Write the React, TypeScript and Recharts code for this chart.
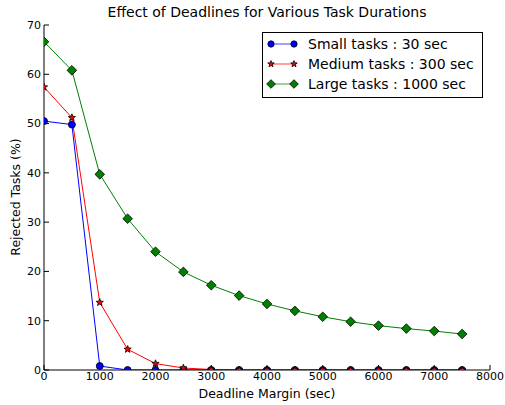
import React from 'react';
import { LineChart, Line, XAxis, YAxis } from 'recharts';

// deadline margins in seconds
const margins = [0, 500, 1000, 1500, 2000, 2500, 3000, 3500, 4000, 4500, 5000, 5500, 6000, 6500, 7000, 7500];

// rejected tasks (%) per task size
const small = [50.5, 49.8, 0.8, 0, 0, 0, 0, 0, 0, 0, 0, 0, 0, 0, 0, 0];
const medium = [57.4, 51.2, 13.7, 4.2, 1.3, 0.4, 0.1, 0, 0, 0, 0, 0, 0, 0, 0, 0];
const large = [66.6, 60.8, 39.7, 30.7, 24.0, 19.9, 17.2, 15.1, 13.4, 12.0, 10.8, 9.8, 9.0, 8.4, 7.9, 7.3];

const xTicks = [0, 1000, 2000, 3000, 4000, 5000, 6000, 7000, 8000];
const yTicks = [0, 10, 20, 30, 40, 50, 60, 70];

const FONT = '"DejaVu Sans", sans-serif';

const data = margins.map((m, i) => ({ margin: m, small: small[i], medium: medium[i], large: large[i] }));

type Shape = 'circle' | 'star' | 'diamond';

const starPath = (cx: number, cy: number, ro: number, ri: number) => {
  const pts: string[] = [];
  for (let k = 0; k < 10; k++) {
    const r = k % 2 === 0 ? ro : ri;
    const a = -Math.PI / 2 + (k * Math.PI) / 5;
    pts.push(`${cx + r * Math.cos(a)},${cy + r * Math.sin(a)}`);
  }
  return `M${pts.join('L')}Z`;
};

const Marker = ({ cx, cy, shape, fill, scale = 1 }: { cx: number; cy: number; shape: Shape; fill: string; scale?: number }) => {
  if (cx == null || cy == null) return null;
  if (shape === 'circle') return <circle cx={cx} cy={cy} r={3.5 * scale} fill={fill} stroke="#000" strokeWidth={0.8} />;
  if (shape === 'star') return <path d={starPath(cx, cy, 3.8 * scale, 1.6 * scale)} fill={fill} stroke="#000" strokeWidth={0.8} />;
  const h = 4.8 * scale;
  return (
    <path d={`M${cx},${cy - h}L${cx + h},${cy}L${cx},${cy + h}L${cx - h},${cy}Z`} fill={fill} stroke="#000" strokeWidth={0.8} />
  );
};

const series: { key: string; name: string; color: string; shape: Shape }[] = [
  { key: 'small', name: 'Small tasks : 30 sec', color: '#0000ff', shape: 'circle' },
  { key: 'medium', name: 'Medium tasks : 300 sec', color: '#ff0000', shape: 'star' },
  { key: 'large', name: 'Large tasks : 1000 sec', color: '#008000', shape: 'diamond' },
];

const tickStyle = { fontSize: 11, fontFamily: FONT, fill: '#000' };

export default function App() {
  return (
    <div style={{ position: 'absolute', left: 0, top: 0, width: 505, height: 405, background: '#fff', fontFamily: FONT }}>
      <LineChart width={505} height={405} data={data} margin={{ top: 25, right: 15, left: 0, bottom: 0 }}>
        <XAxis
          dataKey="margin"
          type="number"
          domain={[0, 8000]}
          ticks={xTicks}
          allowDataOverflow
          height={35}
          stroke="#000"
          tickSize={-5}
          tickMargin={7}
          tick={tickStyle}
        />
        <XAxis xAxisId="top" orientation="top" dataKey="margin" type="number" domain={[0, 8000]} ticks={xTicks} height={0} stroke="#000" tickSize={-5} tick={false} />
        <YAxis
          type="number"
          domain={[0, 70]}
          ticks={yTicks}
          allowDataOverflow
          width={44}
          stroke="#000"
          tickSize={-5}
          tickMargin={8}
          tick={tickStyle}
        />
        <YAxis yAxisId="right" orientation="right" type="number" domain={[0, 70]} ticks={yTicks} width={0} stroke="#000" tickSize={-5} tick={false} />
        {series.map((s) => (
          <Line
            key={s.key}
            dataKey={s.key}
            stroke={s.color}
            strokeWidth={1}
            isAnimationActive={false}
            dot={(p: any) => <Marker key={`${s.key}-${p.index}`} cx={p.cx} cy={p.cy} shape={s.shape} fill={s.color} />}
            activeDot={false}
          />
        ))}
      </LineChart>

      <div style={{ position: 'absolute', left: 0, width: 534, top: 4, textAlign: 'center', fontSize: 14, whiteSpace: 'nowrap' }}>
        Effect of Deadlines for Various Task Durations
      </div>
      <div style={{ position: 'absolute', left: 0, width: 534, top: 386, textAlign: 'center', fontSize: 12.5, whiteSpace: 'nowrap' }}>
        Deadline Margin (sec)
      </div>
      <div
        style={{
          position: 'absolute',
          left: 15,
          top: 197,
          fontSize: 12.5,
          whiteSpace: 'nowrap',
          transform: 'translate(-50%, -50%) rotate(-90deg)',
        }}
      >
        Rejected Tasks (%)
      </div>

      <div
        style={{
          position: 'absolute',
          left: 262,
          top: 32,
          width: 221,
          height: 66,
          border: '1px solid #000',
          background: '#fff',
          boxSizing: 'border-box',
          paddingTop: 1,
        }}
      >
        {series.map((s) => (
          <div key={s.key} style={{ display: 'flex', alignItems: 'center', height: 20 }}>
            <svg width={44} height={14}>
              <line x1={8} x2={31} y1={7} y2={7} stroke={s.color} strokeOpacity={0.5} strokeWidth={1.5} />
              <Marker cx={8} cy={7} shape={s.shape} fill={s.color} scale={0.9} />
              <Marker cx={31} cy={7} shape={s.shape} fill={s.color} scale={0.9} />
            </svg>
            <span style={{ fontSize: 14, marginLeft: 1, whiteSpace: 'nowrap' }}>{s.name}</span>
          </div>
        ))}
      </div>
    </div>
  );
}
